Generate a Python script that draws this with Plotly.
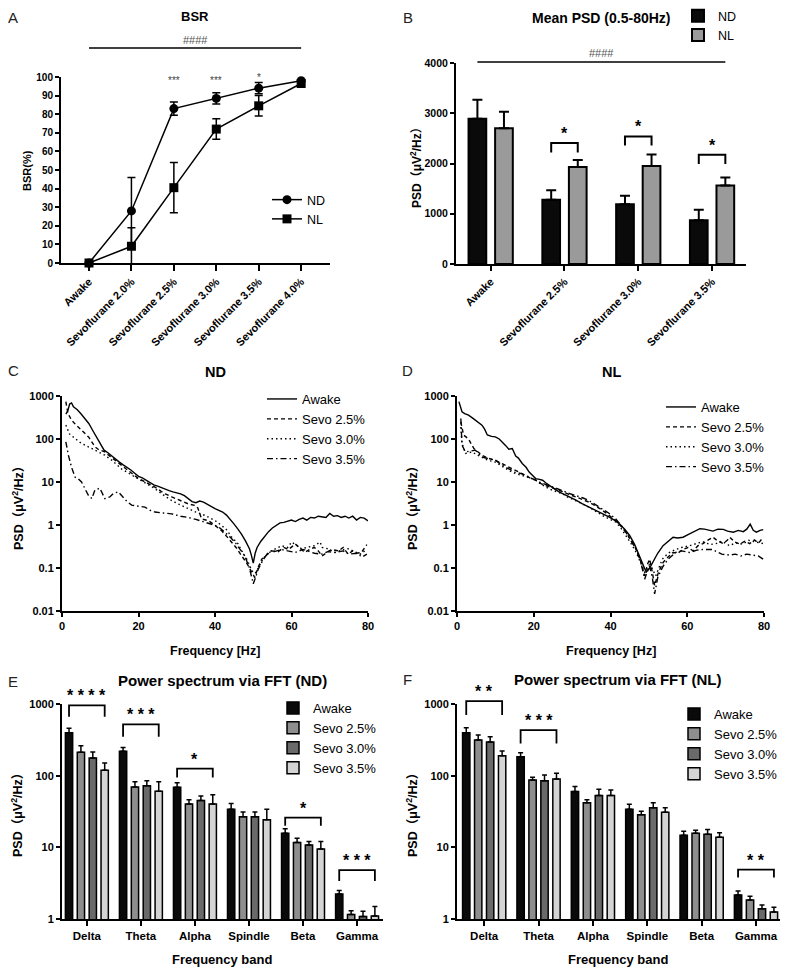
import math
import plotly.graph_objects as go

# The page body adds an 8px margin, so the figure is laid out in reference-pixel
# coordinates shifted by OFF and sized to fill the rest of the 788x971 window.
OFF = 8
W, H = 788 - OFF, 971 - OFF
FONT = "Liberation Sans, Arial, Noto Sans CJK SC, sans-serif"

# ------------------------------------------------------------------ data
A_cats = ["Awake", "Sevoflurane 2.0%", "Sevoflurane 2.5%", "Sevoflurane 3.0%",
          "Sevoflurane 3.5%", "Sevoflurane 4.0%"]
A_nd = [0, 28, 83, 88.5, 94, 98]
A_nd_err = [0, 18, 3.5, 3, 3, 0.5]
A_nl = [0, 9, 40.5, 72, 84.5, 96.5]
A_nl_err = [0, 10, 13.5, 5.5, 5.5, 0.7]

B_cats = ["Awake", "Sevoflurane 2.5%", "Sevoflurane 3.0%", "Sevoflurane 3.5%"]
B_nd = [2890, 1280, 1190, 870]
B_nd_err = [380, 190, 170, 210]
B_nl = [2700, 1930, 1950, 1560]
B_nl_err = [330, 140, 230, 160]

C_awake_f = [1, 1.5, 2, 2.5, 3, 4, 5, 6, 7, 8, 9, 10, 11, 12, 13, 14, 15, 16, 17, 18, 19, 20,
             21, 22, 23, 24, 25, 26, 27, 28, 29, 30, 31, 32, 33, 34, 35, 36, 37, 38, 39, 40,
             41, 42, 43, 44, 45, 46, 47, 48, 49, 49.5, 50, 50.5, 51, 52, 53, 54, 55, 56, 57,
             58, 59, 60, 61, 62, 63, 64, 65, 66, 67, 68, 69, 70, 71, 72, 73, 74, 75, 76, 77,
             78, 79, 80]
C_awake = [380, 450, 650, 690, 560, 480, 380, 300, 230, 160, 110, 78, 55, 48, 40, 34, 29, 25,
           22, 19, 16, 13.5, 12.5, 11, 10, 8.6, 8, 7.3, 6.8, 6.3, 5.9, 5.6, 5.3, 4.8, 4.1, 3.5,
           3.3, 3.6, 3.4, 3.0, 2.7, 2.4, 2.2, 2.0, 1.7, 1.35, 1.05, 0.8, 0.6, 0.42, 0.28, 0.2,
           0.13, 0.22, 0.3, 0.42, 0.55, 0.7, 0.85, 1.0, 1.12, 1.15, 1.2, 1.3, 1.2, 1.35, 1.45,
           1.3, 1.5, 1.45, 1.6, 1.55, 1.5, 1.85, 1.6, 1.65, 1.5, 1.6, 1.45, 1.6, 1.3, 1.5, 1.45,
           1.25]
C_s25_f = [1, 1.5, 2, 2.5, 3.5, 5, 6, 7, 8, 8.6, 9.5, 10.5, 11.2, 12.5, 13.9, 15, 15.6, 17,
           18.5, 20, 22, 24.3, 26, 27, 28.7, 30, 31.5, 33, 34.8, 35.5, 36.5, 38.3, 40, 41.7, 43,
           44.4, 45.5, 47, 48.3, 49.6, 50.4, 51.2, 52.2, 53.5, 54.8, 56.5, 58, 59.2, 61, 62,
           63.5, 65, 66, 67, 68, 69.5, 70.5, 72.3, 73.5, 74.8, 76, 77, 78.3, 79.7]
C_s25 = [740, 420, 330, 275, 220, 160, 135, 110, 80, 66, 57, 54, 50, 40, 32, 27, 24.5, 19, 15,
         12, 9.8, 7.6, 6, 5.3, 4.5, 4.0, 3.6, 3.1, 2.85, 2.5, 1.38, 1.26, 0.98, 0.74, 0.55, 0.4,
         0.3, 0.19, 0.13, 0.08, 0.06, 0.1, 0.16, 0.2, 0.25, 0.24, 0.3, 0.27, 0.36, 0.3, 0.23,
         0.28, 0.3, 0.25, 0.19, 0.24, 0.27, 0.25, 0.3, 0.21, 0.25, 0.22, 0.23, 0.35]
C_s30_f = [1, 2, 3.4, 5, 6.9, 8, 9.5, 11.2, 13, 15.6, 17.5, 20, 22, 24.3, 26.5, 28.7, 31, 33,
           35, 37.4, 40, 41.7, 43, 44.4, 46, 47, 48.5, 49.6, 50.5, 51.3, 52.5, 53.9, 55.5, 57.4,
           59, 60, 61.5, 62.6, 64, 66, 67.5, 68, 69.5, 71.4, 73, 74.8, 76.5, 78, 79.7]
C_s30 = [210, 130, 103, 80, 66, 58, 50, 42, 32, 20, 16, 12, 9.3, 7, 5, 3.7, 2.9, 2.4, 2.0,
         1.67, 1.27, 0.98, 0.78, 0.52, 0.37, 0.25, 0.15, 0.087, 0.075, 0.1, 0.16, 0.23, 0.27,
         0.33, 0.3, 0.4, 0.33, 0.28, 0.3, 0.33, 0.4, 0.3, 0.28, 0.23, 0.26, 0.28, 0.24, 0.21,
         0.27]
C_s35_f = [1, 1.7, 2.5, 3.4, 4.2, 5.1, 6, 6.9, 7.8, 8.6, 9.9, 10.5, 11.2, 12.5, 13.4, 14.7, 16,
           17, 18.2, 20, 21.7, 23, 24.3, 26.5, 28.7, 31, 33, 35, 37.4, 40, 41.3, 42.6, 44, 45.2,
           46.5, 47.8, 49, 50, 50.6, 51.3, 52.5, 53.9, 55.5, 57.4, 59, 61, 63, 64.4, 66, 68,
           69.5, 71.4, 73.5, 75, 77, 78.5, 79.7]
C_s35 = [86, 41, 22, 13, 12, 10, 7, 4.9, 4.1, 6.5, 7.2, 5.5, 4.1, 4.5, 5.4, 5.9, 4.5, 3.5, 2.9,
         2.7, 2.6, 2.2, 2.0, 1.9, 1.82, 1.6, 1.5, 1.35, 1.17, 0.98, 0.85, 0.68, 0.52, 0.4, 0.28,
         0.19, 0.1, 0.043, 0.06, 0.094, 0.15, 0.23, 0.24, 0.27, 0.25, 0.23, 0.27, 0.25, 0.22,
         0.21, 0.24, 0.23, 0.25, 0.21, 0.22, 0.18, 0.21]

D_awake_f = [0.5, 1.3, 2, 3, 4, 4.8, 5.7, 6.5, 7.2, 7.9, 9, 10, 11, 11.8, 12.7, 13.5, 14.4, 15.3,
             16, 17, 18, 18.8, 19.7, 20.5, 21.5, 22.3, 23.2, 24, 25.3, 26.6, 28, 29.2, 31, 32.7,
             34.5, 36.2, 38, 39.7, 41, 42.3, 43.7, 45, 46.3, 47.6, 48.5, 49.3, 50.2, 51, 52.3,
             53.7, 55, 56.3, 57.5, 58.9, 60.2, 61.5, 62.5, 63.3, 64.5, 65.5, 66.7, 68, 69.4,
             70.5, 72, 73.3, 74.6, 75.5, 76.4, 77.2, 78, 79, 79.8]
D_awake = [740, 430, 390, 360, 310, 275, 240, 210, 170, 124, 115, 112, 100, 86, 70, 58, 60, 40,
           36, 27, 22, 17, 14, 12, 11.5, 11, 9.5, 8.3, 7, 5.9, 5.2, 4.5, 3.8, 3.1, 2.6, 2.2, 1.8,
           1.53, 1.3, 1.07, 0.8, 0.57, 0.35, 0.19, 0.12, 0.08, 0.1, 0.135, 0.22, 0.33, 0.42,
           0.52, 0.5, 0.52, 0.6, 0.68, 0.75, 0.82, 0.8, 0.75, 0.72, 0.8, 0.79, 0.72, 0.68, 0.75,
           0.7, 0.8, 1.05, 0.75, 0.68, 0.75, 0.78]
D_s25_f = [1, 1.7, 3, 4.4, 5.5, 6.5, 8, 10, 12, 13.5, 15, 17, 19, 20.5, 22, 24, 25.8, 27.5, 29,
           31, 32.7, 34.4, 36, 37.9, 39.5, 41.4, 42.7, 44, 45.3, 46.7, 47.8, 48.9, 49.6, 50.2,
           50.9, 51.5, 52.5, 53.7, 55, 56.3, 57.5, 58.9, 60.2, 61.5, 62.8, 64.1, 65.5, 66.7, 68,
           69.4, 70.5, 71.1, 72.4, 73.7, 75, 76.3, 77.5, 78.6, 79.8]
D_s25 = [250, 124, 100, 60, 50, 42, 36, 32, 26, 22, 18.5, 15.5, 12.5, 11, 9, 7.6, 6.8, 6, 5.2,
         4.5, 3.9, 3.4, 2.8, 2.2, 1.7, 1.27, 0.95, 0.68, 0.45, 0.27, 0.15, 0.066, 0.12, 0.16,
         0.08, 0.039, 0.08, 0.135, 0.18, 0.23, 0.22, 0.27, 0.3, 0.25, 0.33, 0.37, 0.45, 0.52,
         0.42, 0.37, 0.45, 0.52, 0.4, 0.36, 0.42, 0.37, 0.45, 0.38, 0.52]
D_s30_f = [1, 1.3, 2.2, 3.9, 5, 6.5, 8, 10, 12, 13.5, 15, 17, 19, 20.5, 22, 24, 25.8, 27.5, 29,
           31, 32.7, 34.4, 36, 37.9, 39.5, 41.4, 42.7, 44, 45.3, 46.7, 47.8, 48.9, 50, 50.2, 51,
           51.8, 53.5, 55, 57, 58.5, 60.6, 62, 64, 66, 67.5, 69, 71, 72.5, 74.5, 76, 77.8, 79.8]
D_s30 = [190, 80, 46, 50, 44, 38, 32, 29, 22, 18.6, 16, 14.4, 12.5, 11, 8.8, 6.9, 6, 5.3, 4.4,
         3.7, 3.1, 2.6, 2.1, 1.67, 1.4, 1.17, 0.85, 0.57, 0.38, 0.23, 0.14, 0.08, 0.1, 0.135,
         0.09, 0.066, 0.16, 0.22, 0.27, 0.3, 0.33, 0.36, 0.41, 0.35, 0.37, 0.42, 0.33, 0.38,
         0.36, 0.44, 0.4, 0.37]
D_s35_f = [1, 1.3, 2.2, 3.5, 4.8, 6.5, 8.5, 10, 12, 13.5, 15, 17, 19, 20.5, 22, 24, 25.8, 27.5,
           29, 31, 32.7, 34.4, 36, 37.9, 39.5, 41.4, 42.7, 44, 45.3, 46.7, 47.8, 48.9, 49.5,
           50.2, 50.9, 51.5, 52.3, 53.7, 55, 57, 58.5, 60.6, 62.5, 64.1, 66.5, 67.5, 69, 71,
           72.5, 74, 75.5, 77, 78.5, 79.8]
D_s35 = [300, 72, 50, 52, 55, 38, 34, 32, 24, 20, 17, 15.5, 12.5, 11, 9.5, 8.3, 7.2, 6.3, 5.5,
         4.9, 4.3, 3.7, 3.0, 2.4, 1.9, 1.38, 1.0, 0.68, 0.45, 0.27, 0.15, 0.055, 0.08, 0.11,
         0.06, 0.025, 0.06, 0.11, 0.16, 0.23, 0.25, 0.23, 0.26, 0.27, 0.27, 0.24, 0.21, 0.2,
         0.21, 0.19, 0.21, 0.2, 0.19, 0.16]

bands = ["Delta", "Theta", "Alpha", "Spindle", "Beta", "Gamma"]
E_awake = [398, 219, 68.7, 34, 15.7, 2.24]
E_awake_err = [59, 29, 11.1, 7, 2.5, 0.26]
E_s25 = [212, 69.5, 40.3, 26.7, 11.7, 1.16]
E_s25_err = [50, 12.5, 5.7, 4.3, 1.7, 0.14]
E_s30 = [177, 72.5, 45, 26.7, 10.8, 1.08]
E_s30_err = [37, 12.5, 7, 4.3, 1.3, 0.2]
E_s35 = [119, 60.5, 40.3, 24.3, 9.5, 1.1]
E_s35_err = [31, 21.5, 13.7, 9.7, 2.6, 0.39]

F_awake = [398, 184, 60.3, 33.9, 14.7, 2.16]
F_awake_err = [70, 25, 10.4, 5.9, 2.0, 0.30]
F_s25 = [315, 87, 42, 28.6, 15.7, 1.84]
F_s25_err = [54, 8, 4, 3.2, 1.6, 0.23]
F_s30 = [295, 85, 53, 35.7, 15.2, 1.39]
F_s30_err = [55, 17, 11.6, 6.3, 2.6, 0.18]
F_s35 = [190, 90, 53, 30.8, 13.8, 1.25]
F_s35_err = [31, 18, 10, 4.9, 2.2, 0.21]

# significance brackets: (category index, bracket level, leg bottom, label)
B_sig = [(1, 2408, 2221, "*"), (2, 2539, 2360, "*"), (3, 2175, 1990, "*")]
E_sig = [(0, 955, 665, "* * * *"), (1, 520, 350, "* * *"), (2, 125, 94, "*"),
         (4, 26, 20, "*"), (5, 4.8, 3.4, "* * *")]
F_sig = [(0, 1100, 700, "* *"), (1, 433, 282, "* * *"), (5, 4.9, 3.78, "* *")]

# ------------------------------------------------------------------ layout geometry (reference pixels)
P = {
    "A": dict(l=61, r=330, t=77, b=263, xr=[-0.66, 5.68], yr=[0, 100], log=False, ax=""),
    "B": dict(l=456, r=746, t=63, b=264, xr=[-0.47, 3.46], yr=[0, 4000], log=False, ax="2"),
    "C": dict(l=62, r=368, t=396, b=611, xr=[0, 80], yr=[-2, 3], log=True, ax="3"),
    "D": dict(l=457, r=764, t=396, b=611, xr=[0, 80], yr=[-2, 3], log=True, ax="4"),
    "E": dict(l=62, r=383, t=704, b=919, xr=[-0.46, 5.48], yr=[0, 3], log=True, ax="5"),
    "F": dict(l=457, r=781, t=704, b=919, xr=[-0.5, 5.46], yr=[0, 3], log=True, ax="6"),
}


def ppx(x):
    return (x - OFF) / W


def ppy(y):
    return 1 - (y - OFF) / H


def px(p, v):
    g = P[p]
    return ppx(g["l"] + (v - g["xr"][0]) / (g["xr"][1] - g["xr"][0]) * (g["r"] - g["l"]))


def py(p, v):
    g = P[p]
    val = math.log10(v) if g["log"] else v
    return ppy(g["b"] - (val - g["yr"][0]) / (g["yr"][1] - g["yr"][0]) * (g["b"] - g["t"]))


fig = go.Figure()


def ax_ref(p):
    a = P[p]["ax"]
    return "x" + a, "y" + a


# ---- A
xa, ya = ax_ref("A")
idxA = list(range(len(A_cats)))
for name, vals, errs, sym in [("ND", A_nd, A_nd_err, "circle"),
                              ("NL", A_nl, A_nl_err, "square")]:
    fig.add_trace(go.Scatter(
        x=idxA, y=vals, name=name, mode="lines+markers", xaxis=xa, yaxis=ya, legend="legend",
        line=dict(color="black", width=1.5),
        marker=dict(symbol=sym, size=9, color="black"),
        error_y=dict(type="data", array=errs, color="black", thickness=1.5, width=4),
        cliponaxis=False))

# ---- B
xa, ya = ax_ref("B")
idxB = list(range(len(B_cats)))
for name, vals, errs, col, off in [("ND", B_nd, B_nd_err, "#0a0a0a", -0.30),
                                   ("NL", B_nl, B_nl_err, "#9a9a9a", 0.06)]:
    fig.add_trace(go.Bar(
        x=idxB, y=vals, name=name, xaxis=xa, yaxis=ya, legend="legend2",
        width=0.24, offset=off,
        marker=dict(color=col, line=dict(color="black", width=2)),
        error_y=dict(type="data", array=errs, arrayminus=[0] * len(errs), symmetric=False,
                     color="black", thickness=2, width=5)))

# ---- C, D
dashes = {"Awake": "solid", "Sevo 2.5%": "4px,3px", "Sevo 3.0%": "1.5px,3px",
          "Sevo 3.5%": "6px,3px,1.5px,3px"}
for p, lg, series in [("C", "legend3", [("Awake", C_awake_f, C_awake), ("Sevo 2.5%", C_s25_f, C_s25),
                                        ("Sevo 3.0%", C_s30_f, C_s30), ("Sevo 3.5%", C_s35_f, C_s35)]),
                      ("D", "legend4", [("Awake", D_awake_f, D_awake), ("Sevo 2.5%", D_s25_f, D_s25),
                                        ("Sevo 3.0%", D_s30_f, D_s30), ("Sevo 3.5%", D_s35_f, D_s35)])]:
    xa, ya = ax_ref(p)
    for name, f, v in series:
        fig.add_trace(go.Scatter(
            x=f, y=v, name=name, mode="lines", xaxis=xa, yaxis=ya, legend=lg,
            line=dict(color="black", width=1.4, dash=dashes[name])))

# ---- E, F
bar_cols = {"Awake": "#0a0a0a", "Sevo 2.5%": "#8e8e8e", "Sevo 3.0%": "#6a6a6a", "Sevo 3.5%": "#d4d4d4"}
centers = [-0.33, -0.11, 0.11, 0.33]
bw = 0.135
idxE = list(range(len(bands)))
for p, lg, series in [("E", "legend5", [("Awake", E_awake, E_awake_err), ("Sevo 2.5%", E_s25, E_s25_err),
                                        ("Sevo 3.0%", E_s30, E_s30_err), ("Sevo 3.5%", E_s35, E_s35_err)]),
                      ("F", "legend6", [("Awake", F_awake, F_awake_err), ("Sevo 2.5%", F_s25, F_s25_err),
                                        ("Sevo 3.0%", F_s30, F_s30_err), ("Sevo 3.5%", F_s35, F_s35_err)])]:
    xa, ya = ax_ref(p)
    for (name, v, e), c in zip(series, centers):
        fig.add_trace(go.Bar(
            x=idxE, y=v, name=name, xaxis=xa, yaxis=ya, legend=lg,
            width=bw, offset=c - bw / 2,
            marker=dict(color=bar_cols[name], line=dict(color="black", width=1.5)),
            error_y=dict(type="data", array=e, arrayminus=[0] * len(e), symmetric=False,
                         color="black", thickness=1.5, width=2.5)))

# ------------------------------------------------------------------ axes
tickfont = dict(family=FONT, size=11, color="black", weight="bold")
common = dict(showline=True, linecolor="black", linewidth=2, ticks="outside", ticklen=4,
              tickwidth=2, tickcolor="black", showgrid=False, zeroline=False,
              tickfont=tickfont, fixedrange=True, automargin=False)

layout = dict(template="none", width=W, height=H,
              margin=dict(l=0, r=0, t=0, b=0, pad=0, autoexpand=False),
              paper_bgcolor="white", plot_bgcolor="white", barmode="overlay",
              font=dict(family=FONT, color="black"))

for p, g in P.items():
    a = g["ax"]
    xd = dict(common, domain=[ppx(g["l"]), ppx(g["r"])], range=g["xr"], anchor="y" + a)
    yd = dict(common, domain=[ppy(g["b"]), ppy(g["t"])], range=g["yr"], anchor="x" + a)
    if p == "A":
        xd.update(tickvals=idxA, ticktext=A_cats, tickangle=-45, ticklen=6,
                  tickfont=dict(tickfont, size=11))
        yd.update(tickvals=list(range(0, 101, 10)), tickfont=dict(tickfont, size=10))
    elif p == "B":
        xd.update(tickvals=idxB, ticktext=B_cats, tickangle=-45, ticklen=5,
                  tickfont=dict(tickfont, size=11))
        yd.update(tickvals=[0, 1000, 2000, 3000, 4000], tickfont=dict(tickfont, size=10.5))
    elif p in ("C", "D"):
        xd.update(tickvals=[0, 20, 40, 60, 80])
        yd.update(type="log", tickvals=[0.01, 0.1, 1, 10, 100, 1000],
                  ticktext=["0.01", "0.1", "1", "10", "100", "1000"])
    else:
        xd.update(tickvals=idxE, ticktext=bands, ticklen=5,
                  tickfont=dict(tickfont, size=11.5))
        yd.update(type="log", tickvals=[1, 10, 100, 1000], ticktext=["1", "10", "100", "1000"])
    layout["xaxis" + a] = xd
    layout["yaxis" + a] = yd


# ------------------------------------------------------------------ legends
def leg(xpix, ypix, size):
    return dict(x=ppx(xpix), y=ppy(ypix), xanchor="left", yanchor="top",
                bgcolor="rgba(0,0,0,0)", font=dict(family=FONT, size=size, color="black"),
                itemwidth=30)


layout["legend"] = leg(267, 185, 12.5)
layout["legend2"] = leg(678, 1, 12.5)
layout["legend3"] = leg(262, 384, 13)
layout["legend4"] = leg(661, 392, 13)
layout["legend5"] = leg(273, 693, 13)
layout["legend6"] = leg(674, 699, 13)

fig.update_layout(**layout)

# ------------------------------------------------------------------ annotations & shapes
ann = []
shapes = []


def text(x, y, s, size, bold=False, color="black", angle=0, xanchor="center", yanchor="middle"):
    ann.append(dict(x=x, y=y, xref="paper", yref="paper", text=("<b>%s</b>" % s) if bold else s,
                    showarrow=False, textangle=angle, xanchor=xanchor, yanchor=yanchor,
                    borderpad=0, font=dict(family=FONT, size=size, color=color)))


def line(x0, y0, x1, y1, w=1.5, color="black"):
    shapes.append(dict(type="line", xref="paper", yref="paper", x0=x0, y0=y0, x1=x1, y1=y1,
                       line=dict(color=color, width=w)))


def bracket(p, xa, xb, ytop, ybot, w=1.6):
    X0, X1 = px(p, xa), px(p, xb)
    Yt, Yb = py(p, ytop), py(p, ybot)
    shapes.append(dict(type="path", xref="paper", yref="paper",
                       path="M %f,%f L %f,%f L %f,%f L %f,%f" % (X0, Yb, X0, Yt, X1, Yt, X1, Yb),
                       line=dict(color="black", width=w)))


# panel letters (kept just inside the figure's top edge)
for L, x, y in [("A", 13, 17), ("B", 408, 17), ("C", 13, 371), ("D", 408, 371),
                ("E", 13, 681), ("F", 408, 679)]:
    text(ppx(x), ppy(y), L, 15, color="#222")

# titles
text(ppx(195), ppy(16), "BSR", 13, bold=True)
text(ppx(601), ppy(18), "Mean PSD (0.5-80Hz)", 14, bold=True)
text(ppx(215), ppy(372), "ND", 14.5, bold=True)
text(ppx(611), ppy(372), "NL", 14.5, bold=True)
text(ppx(222), ppy(680), "Power spectrum via FFT (ND)", 15, bold=True)
text(ppx(618), ppy(679), "Power spectrum via FFT (NL)", 15, bold=True)

# axis titles
psd = "PSD（μV<sup>2</sup>/Hz）"
text(ppx(27), ppy(171), "BSR(%)", 11, bold=True, angle=-90)
text(ppx(416), ppy(165), psd, 12, bold=True, angle=-90)
text(ppx(18), ppy(505), psd, 12.5, bold=True, angle=-90)
text(ppx(412), ppy(505), psd, 12.5, bold=True, angle=-90)
text(ppx(17), ppy(812), psd, 12.5, bold=True, angle=-90)
text(ppx(412), ppy(812), psd, 12.5, bold=True, angle=-90)
text(ppx(215), ppy(651), "Frequency [Hz]", 12.5, bold=True)
text(ppx(611), ppy(651), "Frequency [Hz]", 12.5, bold=True)
text(ppx(222), ppy(959), "Frequency band", 13, bold=True)
text(ppx(618), ppy(959), "Frequency band", 13, bold=True)

# A: hash line & stars
line(px("A", 0), ppy(48), px("A", 5), ppy(48), w=1.5)
text(px("A", 2.5), ppy(40), "####", 11, color="#555")
for i, s, yp in [(2, "***", 81), (3, "***", 81), (4, "*", 77)]:
    text(px("A", i), ppy(yp), s, 10, color="#444")

# B: hash line & brackets
line(px("B", -0.18), ppy(62), px("B", 3.18), ppy(62), w=1.5)
text(px("B", 1.5), ppy(53), "####", 11, color="#555")
for i, yt, yb, s in B_sig:
    bracket("B", i - 0.18, i + 0.18, yt, yb, w=2)
    text(px("B", i), py("B", yt), s, 16, bold=True, yanchor="bottom")

for p, sig in [("E", E_sig), ("F", F_sig)]:
    for i, yt, yb, s in sig:
        bracket(p, i - 0.33, i + 0.33, yt, yb, w=1.8)
        text(px(p, i), py(p, yt), s, 16, bold=True, yanchor="bottom")

fig.update_layout(annotations=ann, shapes=shapes)

fig.write_html("out.html")
